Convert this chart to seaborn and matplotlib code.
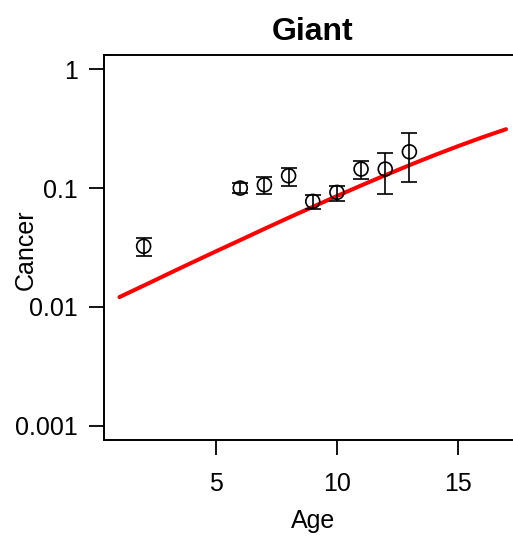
import numpy as np
import pandas as pd
import matplotlib
matplotlib.use("Agg")
import matplotlib.pyplot as plt
import seaborn as sns

# Observed cancer proportion by age, with error bar bounds
age = [2, 6, 7, 8, 9, 10, 11, 12, 13]
cancer = [0.0324, 0.100, 0.1066, 0.127, 0.0773, 0.092, 0.1445, 0.1445, 0.202]
err_low = [0.0267, 0.0908, 0.0895, 0.1046, 0.0666, 0.0782, 0.119, 0.089, 0.1117]
err_high = [0.0379, 0.110, 0.123, 0.147, 0.0878, 0.1046, 0.170, 0.197, 0.290]

# Fitted curve
fit_age = [1, 2, 3, 4, 5, 6, 7, 8, 9, 10, 11, 12, 13, 14, 15, 16, 17]
fit_cancer = [0.0121, 0.0151, 0.0189, 0.0236, 0.0294, 0.0365, 0.0454, 0.0563,
              0.0695, 0.0857, 0.1051, 0.1283, 0.1558, 0.1879, 0.2248, 0.2666,
              0.3130]

yticks = [0.001, 0.01, 0.1, 1]
ytick_labels = ["0.001", "0.01", "0.1", "1"]
xticks = [5, 10, 15]
xtick_labels = ["5", "10", "15"]

sns.set_theme(style="white")
plt.rcParams["font.family"] = ["Liberation Sans", "DejaVu Sans"]

fig = plt.figure(figsize=(5.13, 5.38), dpi=100)
ax = fig.add_axes([104 / 513, 98 / 538, 417.5 / 513, 385 / 538])

pts = pd.DataFrame({"Age": age, "Cancer": cancer})
fit = pd.DataFrame({"Age": fit_age, "Cancer": fit_cancer})

sns.lineplot(data=fit, x="Age", y="Cancer", ax=ax, color="#ff0000",
             linewidth=2.9, zorder=2)

lo = np.array(cancer) - np.array(err_low)
hi = np.array(err_high) - np.array(cancer)
ax.errorbar(age, cancer, yerr=[lo, hi], fmt="none", ecolor="black",
            elinewidth=1.2, capsize=6, capthick=1.2, zorder=3)
sns.scatterplot(data=pts, x="Age", y="Cancer", ax=ax, marker="o",
                s=100, facecolor="none", edgecolor="black", linewidth=1.2,
                zorder=4)

ax.set_yscale("log")
ax.set_xlim(0.36, 17.64)
ax.set_ylim(10 ** -3.12, 10 ** 0.12)
ax.set_yticks(yticks)
ax.set_yticklabels(ytick_labels)
ax.yaxis.set_minor_locator(matplotlib.ticker.NullLocator())
ax.set_xticks(xticks)
ax.set_xticklabels(xtick_labels)

ax.tick_params(axis="both", which="major", direction="out", length=11,
               width=1.3, color="black", labelsize=18, labelcolor="black",
               left=True, bottom=True)
ax.tick_params(axis="y", pad=8)
ax.tick_params(axis="x", pad=12)

for side in ["left", "top", "bottom"]:
    ax.spines[side].set_visible(True)
    ax.spines[side].set_color("black")
    ax.spines[side].set_linewidth(1.4)
ax.spines["right"].set_visible(False)

ax.set_xlabel("Age", fontsize=18, color="black")
ax.set_ylabel("Cancer", fontsize=18, color="black")
ax.xaxis.set_label_coords((313 - 104) / 417.5, -(509 - 440) / 385)
ax.yaxis.set_label_coords((38 - 104) / 417.5, 0.5 - 2.5 / 385)
ax.set_title("Giant", fontsize=23, fontweight="bold", color="black", pad=11)

fig.savefig("out.png", dpi=100)
